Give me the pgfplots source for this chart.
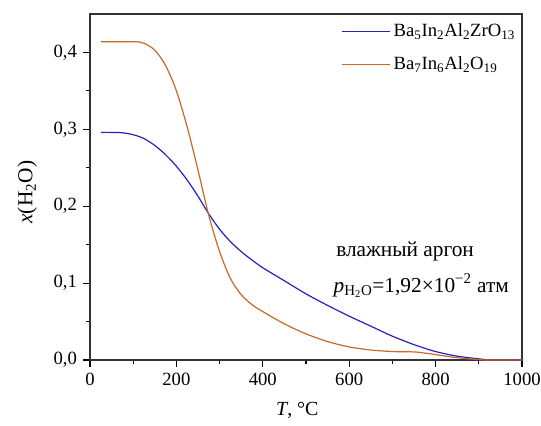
\documentclass[border=0pt]{standalone}
\usepackage{pgfplots}
\pgfplotsset{compat=1.18}
\usepackage{fontspec}
\setmainfont{Liberation Serif}
\definecolor{cblue}{RGB}{35,35,190}
\definecolor{corange}{RGB}{198,106,40}
\begin{document}
\fontsize{14}{16}\selectfont
\begin{tikzpicture}
\begin{axis}[
  scale only axis,
  width=324pt, height=259.5pt,
  xmin=0, xmax=1000, ymin=0, ymax=0.45,
  xtick={0,200,...,1000},
  minor xtick={100,300,...,900},
  ytick={0,0.1,0.2,0.3,0.4},
  minor ytick={0.05,0.15,0.25,0.35},
  tick align=outside,
  xtick pos=bottom, ytick pos=left,
  major tick length=5pt, minor tick length=3pt,
  every tick/.style={black, line width=0.8pt},
  axis line style={line width=0.9pt, black!80},
  /pgf/number format/assume math mode=true,
  yticklabel style={/pgf/number format/.cd, fixed, fixed zerofill, precision=1, use comma},
  xticklabel style={/pgf/number format/.cd, fixed, 1000 sep={}},
  scaled y ticks=false,
  xlabel={\textit{T}, °C},
  ylabel={\textit{x}(H\textsubscript{2}O)},
  xlabel style={at={(axis description cs:0.48,0)}, anchor=center, yshift=-37.5pt, font=\fontsize{15}{17}\selectfont},
  ylabel style={at={(axis description cs:0,0.485)}, anchor=center, yshift=47pt, font=\fontsize{16}{18}\selectfont},
  legend style={draw=none, fill=none, at={(1,1)}, anchor=north east, xshift=-3pt, yshift=-5pt, font=\fontsize{14}{16}\selectfont, row sep=9pt, inner sep=0pt},
  legend cell align=left,
  clip=false,
]
\addplot[cblue, line width=0.9pt, smooth, legend image code/.code={\draw[cblue, line width=1pt] (-22pt,0pt) -- (14pt,0pt);}] coordinates {
(25,0.296) (50,0.296) (75,0.2955) (100,0.293) (125,0.288) (150,0.279) (175,0.267)
(200,0.252) (225,0.234) (250,0.213) (275,0.190) (300,0.170) (325,0.154) (350,0.141)
(375,0.130) (400,0.120) (450,0.103) (500,0.086) (550,0.071) (600,0.057) (650,0.044)
(700,0.031) (750,0.020) (800,0.011) (850,0.005) (900,0.0015) (930,0.0) (1000,0.0)
};
\addlegendentry{Ba\textsubscript{5}In\textsubscript{2}Al\textsubscript{2}ZrO\textsubscript{13}}
\addplot[corange, line width=0.9pt, smooth, legend image code/.code={\draw[corange, line width=1pt] (-22pt,0pt) -- (14pt,0pt);}] coordinates {
(25,0.414) (60,0.414) (100,0.414) (115,0.4135) (125,0.412) (150,0.403) (175,0.383)
(200,0.350) (225,0.303) (250,0.247) (275,0.188) (300,0.141) (325,0.106) (350,0.085)
(375,0.072) (400,0.063) (450,0.047) (500,0.034) (550,0.024) (600,0.017) (650,0.013)
(700,0.011) (750,0.0105) (775,0.009) (800,0.007) (850,0.003) (900,0.0005) (920,0.0)
(1000,0.0)
};
\addlegendentry{Ba\textsubscript{7}In\textsubscript{6}Al\textsubscript{2}O\textsubscript{19}}
\node[anchor=base west, font=\fontsize{16}{18}\selectfont] at (axis cs:555,0.134) {влажный аргон};
\node[anchor=base west, font=\fontsize{16}{18}\selectfont] at (axis cs:549,0.088) {\textit{p}\textsubscript{H\textsubscript{2}O}=1,92×10\textsuperscript{−2} атм};
\path (rel axis cs:0,0) ++(-67.5pt,-48.75pt) coordinate (bbl);
\path (rel axis cs:1,1) ++(14.25pt,10.5pt) coordinate (btr);
\end{axis}
\pgfresetboundingbox
\path[use as bounding box] (bbl) rectangle (btr);
\end{tikzpicture}
\end{document}
